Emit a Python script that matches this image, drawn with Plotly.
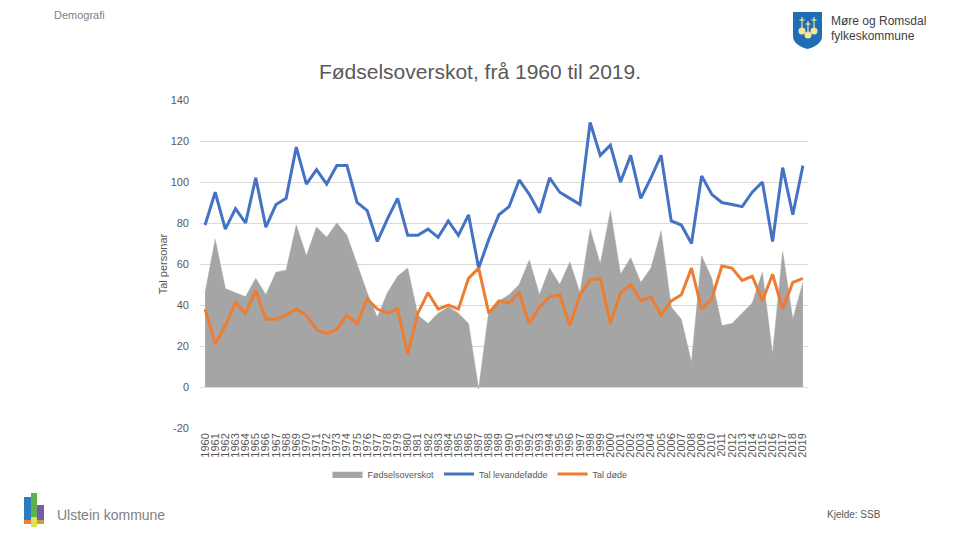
import plotly.graph_objects as go

years = [str(y) for y in range(1960, 2020)]

levandefodde = [79, 95, 77, 87, 80, 102, 78, 89, 92, 117,
                99, 106, 99, 108, 108, 90, 86, 71, 82, 92,
                74, 74, 77, 73, 81, 74, 84, 58, 72, 84,
                88, 101, 94, 85, 102, 95, 92, 89, 129, 113,
                118, 100, 113, 92, 102, 113, 81, 79, 70, 103,
                94, 90, 89, 88, 95, 100, 71, 107, 84, 108]

dode = [38, 21, 30, 41, 36, 47, 33, 33, 35, 38,
        35, 28, 26, 28, 35, 31, 43, 38, 36, 38,
        16, 36, 46, 38, 40, 38, 53, 58, 36, 42,
        41, 46, 31, 39, 44, 45, 30, 45, 52, 53,
        31, 46, 50, 42, 44, 35, 42, 45, 58, 38,
        43, 59, 58, 52, 54, 42, 55, 38, 51, 53]

fodselsoverskot = [46, 72, 48, 46, 44, 53, 45, 56, 57, 79,
                   64, 78, 73, 80, 74, 60, 46, 34, 46, 54,
                   58, 35, 31, 36, 39, 36, 31, -1, 37, 42,
                   45, 50, 62, 45, 58, 50, 61, 46, 77, 60,
                   86, 55, 63, 51, 58, 76, 39, 33, 12, 64,
                   53, 30, 31, 36, 41, 56, 16, 66, 33, 51]

y_ticks = [-20, 0, 20, 40, 60, 80, 100, 120, 140]
y_ticktext = ["-20", "0", "20", "40", "60", "80", "100", "120", "140"]

# page body has an 8px margin; work in screen pixels and offset
OFF = 8
W, H = 960 - 2 * OFF, 540 - 2 * OFF
PL, PR, PT, PB = 200, 808, 100, 428          # plot area in screen pixels
ML, MT = PL - OFF, PT - OFF
MR, MB = W - (PR - OFF), H - (PB - OFF)
PW, PH = PR - PL, PB - PT


def px(x):
    return (x - PL) / PW


def py(y):
    return 1 - (y - PT) / PH


GREY = "#A5A5A5"
BLUE = "#4472C4"
ORANGE = "#ED7D31"
TXT = "#595959"

fig = go.Figure()
fig.add_trace(go.Scatter(x=years, y=fodselsoverskot, name="Fødselsoverskot",
                         mode="lines", fill="tozeroy", fillcolor=GREY,
                         line=dict(color=GREY, width=0.5)))
fig.add_trace(go.Scatter(x=years, y=levandefodde, name="Tal levandefødde",
                         mode="lines", line=dict(color=BLUE, width=3)))
fig.add_trace(go.Scatter(x=years, y=dode, name="Tal døde",
                         mode="lines", line=dict(color=ORANGE, width=3)))

shapes = []
# Møre og Romsdal shield
sx0, sx1, sy0, sy1 = 793, 822, 12, 49
path = "M {a},{b} L {c},{b} L {c},{d} Q {c},{e} {m},{f} Q {a},{e} {a},{d} Z".format(
    a=px(sx0), b=py(sy0), c=px(sx1), d=py(36), e=py(45), m=px((sx0 + sx1) / 2), f=py(sy1))
shapes.append(dict(type="path", xref="paper", yref="paper", path=path,
                   fillcolor="#1F6DB5", line=dict(width=0)))
for cx, cy in [(802, 31), (814, 31), (808, 35)]:
    shapes.append(dict(type="circle", xref="paper", yref="paper",
                       x0=px(cx - 3.5), x1=px(cx + 3.5), y0=py(cy - 3.5), y1=py(cy + 3.5),
                       fillcolor="#F2E49A", line=dict(width=0)))
for cx, top in [(802, 17), (814, 17), (808, 21)]:
    shapes.append(dict(type="line", xref="paper", yref="paper",
                       x0=px(cx), x1=px(cx), y0=py(top), y1=py(top + 11),
                       line=dict(color="#F2E49A", width=1.2)))
    shapes.append(dict(type="line", xref="paper", yref="paper",
                       x0=px(cx - 2.5), x1=px(cx + 2.5), y0=py(top + 3), y1=py(top + 3),
                       line=dict(color="#F2E49A", width=1.2)))
# Ulstein logo bars
for x0, x1, y0, y1, c in [(24, 31, 497, 520, "#2A7BC0"), (31, 37, 493, 520, "#5DB04E"),
                          (37, 44, 505, 520, "#7A5BA6"), (24, 31, 520, 524, "#EE7D2C"),
                          (31, 37, 517, 527, "#D7E35A"), (37, 44, 520, 524, "#C9A23A")]:
    shapes.append(dict(type="rect", xref="paper", yref="paper",
                       x0=px(x0), x1=px(x1), y0=py(y1), y1=py(y0),
                       fillcolor=c, line=dict(width=0)))

annotations = [
    dict(text="Demografi", x=px(79), y=py(15), xref="paper", yref="paper",
         showarrow=False, font=dict(size=11, color="#7F7F7F"), xanchor="center", yanchor="middle"),
    dict(text="Møre og Romsdal", x=px(829), y=py(21), xref="paper", yref="paper",
         showarrow=False, font=dict(size=12, color="#404040"), xanchor="left", yanchor="middle"),
    dict(text="fylkeskommune", x=px(829), y=py(36), xref="paper", yref="paper",
         showarrow=False, font=dict(size=12, color="#404040"), xanchor="left", yanchor="middle"),
    dict(text="Ulstein kommune", x=px(55), y=py(515), xref="paper", yref="paper",
         showarrow=False, font=dict(size=14, color="#7F7F7F"), xanchor="left", yanchor="middle"),
    dict(text="Kjelde: SSB", x=px(854), y=py(514), xref="paper", yref="paper",
         showarrow=False, font=dict(size=10, color="#595959"), xanchor="center", yanchor="middle"),
]

fig.update_layout(
    width=W, height=H,
    margin=dict(l=ML, r=MR, t=MT, b=MB, autoexpand=False),
    paper_bgcolor="white", plot_bgcolor="white",
    font=dict(family="Liberation Sans, Arial, sans-serif", color=TXT),
    title=dict(text="Fødselsoverskot, frå 1960 til 2019.", x=0.5, xref="container",
               xanchor="center", y=1 - (72 - OFF) / H, yanchor="middle",
               font=dict(size=21, color=TXT)),
    showlegend=True,
    legend=dict(orientation="h", x=px(480), xanchor="center", y=py(474), yanchor="middle",
                font=dict(size=9, color=TXT), itemwidth=30, traceorder="normal"),
    shapes=shapes,
    annotations=annotations,
    xaxis=dict(type="category", categoryorder="array", categoryarray=years,
               tickmode="array", tickvals=years, ticktext=years,
               range=[-0.5, 59.5], tickangle=-90, showgrid=False, showline=False,
               zeroline=False, ticks="", tickfont=dict(size=11, color=TXT),
               ticklabelstandoff=2, automargin=False),
    yaxis=dict(range=[-20, 140], tickmode="array", tickvals=y_ticks, ticktext=y_ticktext,
               showgrid=True, gridcolor="#D9D9D9",
               gridwidth=1, zeroline=False, showline=False, ticks="",
               tickfont=dict(size=11, color=TXT), ticklabelstandoff=10, automargin=False,
               title=dict(text="Tal personar", font=dict(size=11, color=TXT), standoff=0)),
)

fig.write_html("out.html")
